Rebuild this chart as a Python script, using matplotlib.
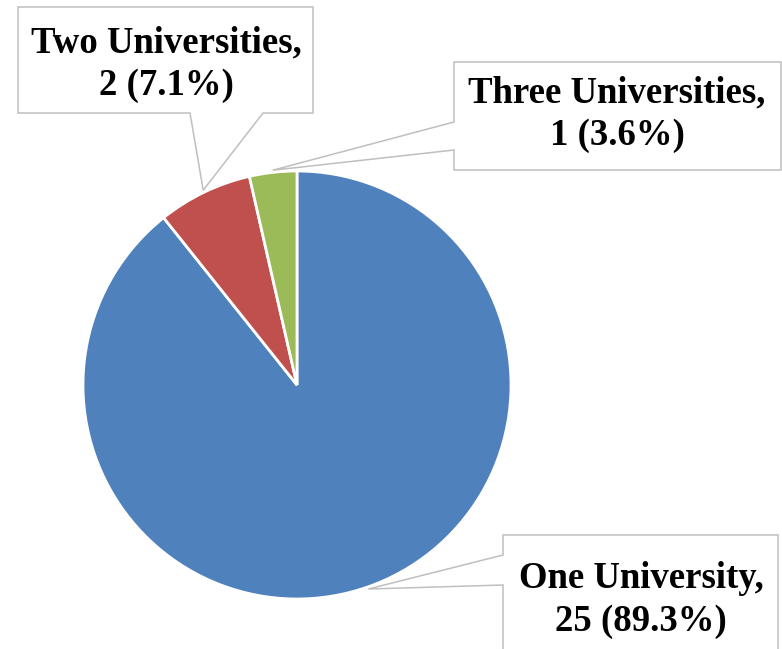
import matplotlib.pyplot as plt
from matplotlib.patches import Polygon
from matplotlib.transforms import IdentityTransform
import numpy as np

labels = ['One University', 'Two Universities', 'Three Universities']
counts = [25, 2, 1]
colors = ['#4F81BD', '#C0504D', '#9BBB59']

W, H = 782, 649
fig = plt.figure(figsize=(W / 100, H / 100), dpi=100)
ax = fig.add_axes([83 / W, (H - 385 - 214) / H, 428 / W, 428 / H])
wedges, _ = ax.pie(counts, colors=colors, startangle=90, counterclock=False,
                   wedgeprops=dict(edgecolor='white', linewidth=2))
ax.set_xlim(-1, 1)
ax.set_ylim(-1, 1)

total = sum(counts)
# callout boxes (pixel coords, y from top): box left, top, right, bottom,
# side of the pointer and its two base points, text centre
boxes = [
    dict(box=(503, 535, 778, 670), side='left', base=(555, 585), text=(641, 600)),
    dict(box=(18, 7, 313, 113), side='bottom', base=(190, 263), text=(166, 64)),
    dict(box=(454, 62, 781, 170), side='left', base=(122, 150), text=(617, 114)),
]


def px(x, y):
    return (x, H - y)


for w, lab, n, b in zip(wedges, labels, counts, boxes):
    ang = np.deg2rad((w.theta1 + w.theta2) / 2)
    tip = ax.transData.transform((1.01 * np.cos(ang), 1.01 * np.sin(ang)))
    l, t, r, bt = b['box']
    b1, b2 = b['base']
    if b['side'] == 'bottom':
        verts = [px(l, t), px(r, t), px(r, bt), px(b2, bt), tuple(tip), px(b1, bt), px(l, bt)]
    else:
        verts = [px(l, t), px(r, t), px(r, bt), px(l, bt), px(l, b2), tuple(tip), px(l, b1)]
    poly = Polygon(verts, closed=True, facecolor='white', edgecolor='#BFBFBF',
                   linewidth=1.1, transform=IdentityTransform(), zorder=5)
    fig.add_artist(poly)
    tx, ty = b['text']
    fig.text(tx / W, (H - ty) / H, '{},\n{} ({:.1f}%)'.format(lab, n, 100 * n / total),
             ha='center', va='center', fontsize=26.5, fontweight='bold',
             family='Liberation Serif', linespacing=1.27, zorder=6)

fig.savefig('out.png', dpi=100)
